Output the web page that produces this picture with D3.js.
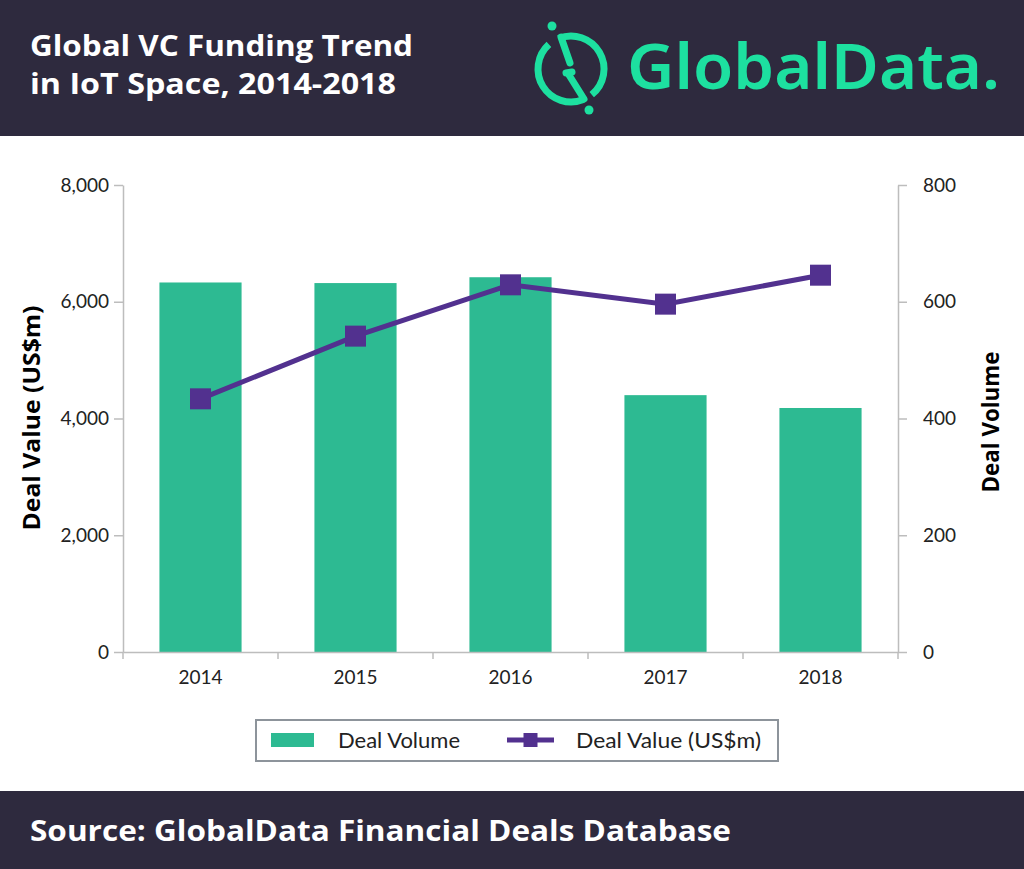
<!DOCTYPE html>
<html>
<head>
<meta charset="utf-8">
<script src="https://cdn.jsdelivr.net/npm/d3@7"></script>
<style>
    html, body { margin: 0; padding: 0; background: #ffffff; }
    svg { display: block; }
</style>
</head>
<body>
<svg id="chart" width="1024" height="869"></svg>
<script>
// data
const years = ["2014", "2015", "2016", "2017", "2018"];
const dealVolume = [633, 632, 642, 440, 418];          // bars, right axis
const dealValue = [4337, 5411, 6290, 5959, 6455];     // line, left axis (US$m)
const valueTicks = [0, 2000, 4000, 6000, 8000];
const volumeTicks = [0, 200, 400, 600, 800];

const titleLines = ["Global VC Funding Trend", "in IoT Space, 2014-2018"];
const titleWidths = [383, 366];
const sourceText = "Source: GlobalData Financial Deals Database";

const kDark = "#2e2a3e";
const kBarGreen = "#2dba92";
const kLinePurple = "#52318f";
const kLogoGreen = "#1de0a0";
const kAxisGrey = "#bdbdbd";
const kTextColor = "#222222";

const paper = d3.select("#chart");

// ---- header / footer bands
paper.append("rect")
    .attr("x", 0).attr("y", 0)
    .attr("width", 1024).attr("height", 136)
    .attr("fill", kDark);

paper.append("rect")
    .attr("x", 0).attr("y", 791)
    .attr("width", 1024).attr("height", 78)
    .attr("fill", kDark);

paper.selectAll(".title")
    .data(titleLines)
    .join("text")
    .attr("class", "title")
    .attr("x", 30)
    .attr("y", (d, i) => 56 + i * 38)
    .attr("fill", "#ffffff")
    .attr("font-family", "'Open Sans', sans-serif")
    .attr("font-weight", 700)
    .attr("font-size", 28)
    .attr("textLength", (d, i) => titleWidths[i])
    .attr("lengthAdjust", "spacingAndGlyphs")
    .text(d => d);

paper.append("text")
    .attr("x", 30)
    .attr("y", 841)
    .attr("fill", "#ffffff")
    .attr("font-family", "'Open Sans', sans-serif")
    .attr("font-weight", 700)
    .attr("font-size", 28)
    .attr("textLength", 701)
    .attr("lengthAdjust", "spacingAndGlyphs")
    .text(sourceText);

drawLogo();

// ---- scales
const x = d3.scaleBand()
    .domain(years)
    .range([123, 898])
    .paddingInner(0.47)
    .paddingOuter(0.235);

const yValue = d3.scaleLinear().domain([0, 8000]).range([652, 185]);
const yVolume = d3.scaleLinear().domain([0, 800]).range([652, 185]);

// ---- bars (deal volume)
paper.append("g")
    .selectAll(".bar")
    .data(years.map((y, i) => ({year: y, v: dealVolume[i]})))
    .join("rect")
    .attr("class", "bar")
    .attr("x", d => x(d.year))
    .attr("y", d => yVolume(d.v))
    .attr("width", x.bandwidth())
    .attr("height", d => yVolume(0) - yVolume(d.v))
    .attr("fill", kBarGreen);

// ---- axes
const leftAxis = paper.append("g")
    .attr("transform", "translate(123,0)")
    .call(d3.axisLeft(yValue)
        .tickValues(valueTicks)
        .tickFormat(d3.format(","))
        .tickSize(9)
        .tickSizeOuter(0)
        .tickPadding(5));

const rightAxis = paper.append("g")
    .attr("transform", "translate(898,0)")
    .call(d3.axisRight(yVolume)
        .tickValues(volumeTicks)
        .tickSize(9)
        .tickSizeOuter(0)
        .tickPadding(16));

const bottomAxis = paper.append("g")
    .attr("transform", "translate(0,652)")
    .call(d3.axisBottom(x).tickSize(0).tickSizeOuter(0).tickPadding(19));

// category boundaries get the tick marks
const gap = (x.step() - x.bandwidth()) / 2;
const bounds = years.map(y => x(y) - gap).concat([x(years[years.length - 1]) + x.bandwidth() + gap]);
bottomAxis.selectAll(".boundTick")
    .data(bounds)
    .join("line")
    .attr("class", "boundTick")
    .attr("x1", d => d).attr("x2", d => d)
    .attr("y1", 0).attr("y2", 7)
    .attr("stroke", kAxisGrey)
    .attr("stroke-width", 1.5);

[leftAxis, rightAxis, bottomAxis].forEach(ax => {
    ax.selectAll(".domain").attr("stroke", kAxisGrey).attr("stroke-width", 1.5);
    ax.selectAll(".tick line").attr("stroke", kAxisGrey).attr("stroke-width", 1.5);
    ax.selectAll(".tick text")
        .attr("fill", kTextColor)
        .attr("font-family", "Lato, sans-serif")
        .attr("font-weight", 400)
        .attr("font-size", 19);
});

// axis titles
paper.append("text")
    .attr("transform", "translate(40,418) rotate(-90)")
    .attr("text-anchor", "middle")
    .attr("fill", "#000000")
    .attr("font-family", "'Open Sans', sans-serif")
    .attr("font-weight", 700)
    .attr("font-size", 23)
    .attr("textLength", 225)
    .attr("lengthAdjust", "spacingAndGlyphs")
    .text("Deal Value (US$m)");

paper.append("text")
    .attr("transform", "translate(999,422) rotate(-90)")
    .attr("text-anchor", "middle")
    .attr("fill", "#000000")
    .attr("font-family", "'Open Sans', sans-serif")
    .attr("font-weight", 700)
    .attr("font-size", 23)
    .attr("textLength", 141)
    .attr("lengthAdjust", "spacingAndGlyphs")
    .text("Deal Volume");

// ---- line (deal value)
const linePts = years.map((y, i) => ({year: y, v: dealValue[i]}));
const cx = d => x(d.year) + x.bandwidth() / 2;

paper.append("path")
    .datum(linePts)
    .attr("fill", "none")
    .attr("stroke", kLinePurple)
    .attr("stroke-width", 5)
    .attr("d", d3.line().x(cx).y(d => yValue(d.v)));

const kMarker = 21;
paper.append("g")
    .selectAll(".marker")
    .data(linePts)
    .join("rect")
    .attr("class", "marker")
    .attr("x", d => cx(d) - kMarker / 2)
    .attr("y", d => yValue(d.v) - kMarker / 2)
    .attr("width", kMarker)
    .attr("height", kMarker)
    .attr("fill", kLinePurple);

// ---- legend
const legend = paper.append("g");
legend.append("rect")
    .attr("x", 256).attr("y", 720)
    .attr("width", 522).attr("height", 41)
    .attr("fill", "#ffffff")
    .attr("stroke", "#8d949b")
    .attr("stroke-width", 2);

legend.append("rect")
    .attr("x", 271).attr("y", 733)
    .attr("width", 43).attr("height", 14)
    .attr("fill", kBarGreen);

legend.append("line")
    .attr("x1", 507).attr("x2", 554)
    .attr("y1", 740).attr("y2", 740)
    .attr("stroke", kLinePurple)
    .attr("stroke-width", 5);

legend.append("rect")
    .attr("x", 523.5).attr("y", 733)
    .attr("width", 14).attr("height", 14)
    .attr("fill", kLinePurple);

legend.selectAll(".legendText")
    .data([{x: 338, t: "Deal Volume", w: 122}, {x: 576, t: "Deal Value (US$m)", w: 185}])
    .join("text")
    .attr("class", "legendText")
    .attr("x", d => d.x)
    .attr("y", 748)
    .attr("fill", kTextColor)
    .attr("font-family", "Lato, sans-serif")
    .attr("font-size", 21)
    .attr("textLength", d => d.w)
    .attr("lengthAdjust", "spacingAndGlyphs")
    .text(d => d.t);

function drawLogo() {
    const logo = paper.append("g")
        .attr("fill", "none")
        .attr("stroke", kLogoGreen)
        .attr("stroke-width", 7)
        .attr("stroke-linecap", "round");

    const cxL = 571, cyL = 69, r = 33;
    const arc = d3.arc().innerRadius(r).outerRadius(r);
    // d3 arc angles: 0 at 12 o'clock, clockwise
    const deg = a => a * Math.PI / 180;
    logo.append("path")
        .attr("transform", `translate(${cxL},${cyL})`)
        .attr("d", arc({startAngle: deg(158), endAngle: deg(318)}));
    logo.append("path")
        .attr("transform", `translate(${cxL},${cyL})`)
        .attr("d", arc({startAngle: deg(-22), endAngle: deg(141)}));

    logo.append("path")
        .attr("d", "M561,37 L570,63 M566,73 L572,72 M569,75 L584,99");

    logo.selectAll(".logoDot")
        .data([[552, 26], [589, 110]])
        .join("circle")
        .attr("class", "logoDot")
        .attr("cx", d => d[0]).attr("cy", d => d[1])
        .attr("r", 4.5)
        .attr("stroke", "none")
        .attr("fill", kLogoGreen);

    paper.append("text")
        .attr("x", 627)
        .attr("y", 89)
        .attr("fill", kLogoGreen)
        .attr("font-family", "'Noto Sans', sans-serif")
        .attr("font-weight", 600)
        .attr("font-size", 64)
        .attr("textLength", 373)
        .attr("lengthAdjust", "spacingAndGlyphs")
        .text("GlobalData.");
}
</script>
</body>
</html>
